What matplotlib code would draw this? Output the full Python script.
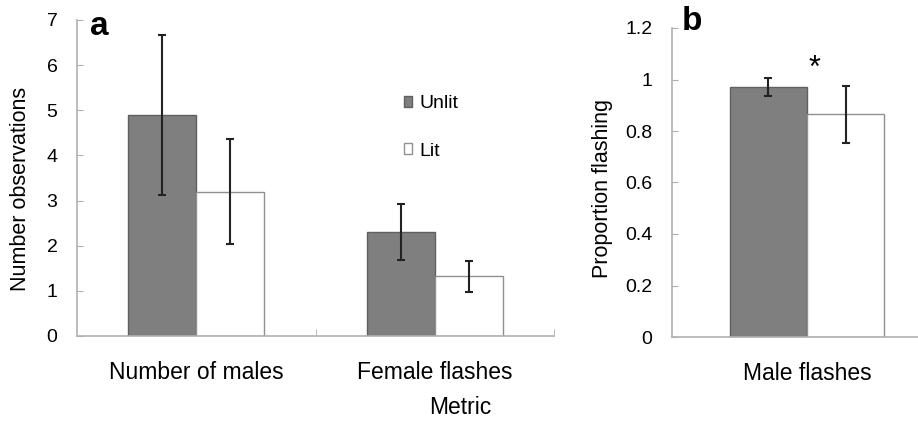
import numpy as np
import matplotlib.pyplot as plt

plt.rcParams['font.family'] = ['Liberation Sans', 'DejaVu Sans']

# panel a data
metrics = ['Number of males', 'Female flashes']
unlit_a = [4.9, 2.3]
unlit_a_err = [1.77, 0.62]
lit_a = [3.2, 1.32]
lit_a_err = [1.17, 0.34]

# panel b data
metric_b = ['Male flashes']
unlit_b = [0.97]
unlit_b_err = [0.035]
lit_b = [0.865]
lit_b_err = [0.11]

W, H = 918, 421
fig = plt.figure(figsize=(W / 100, H / 100), dpi=100)

dark = '#7f7f7f'
spine_c = '#b0b0b0'
bw = 0.286

def style(ax):
    for s in ['top', 'right']:
        ax.spines[s].set_visible(False)
    for s in ['left', 'bottom']:
        ax.spines[s].set_color(spine_c)
        ax.spines[s].set_linewidth(1.2)
    ax.tick_params(axis='y', direction='in', length=4, color=spine_c,
                   labelsize=14, pad=14)
    ax.tick_params(axis='x', which='major', length=0, labelsize=16.5, pad=18)
    ax.tick_params(axis='x', which='minor', direction='in', length=5, color=spine_c)

def bars(ax, x, u, ue, l, le):
    ax.bar(x - bw / 2, u, bw, color=dark, edgecolor='#606060', linewidth=1, label='Unlit')
    ax.bar(x + bw / 2, l, bw, color='white', edgecolor='#909090', linewidth=1, label='Lit')
    ax.errorbar(x - bw / 2, u, yerr=ue, fmt='none', ecolor='#222222',
                elinewidth=1.5, capsize=3, capthick=1.5)
    ax.errorbar(x + bw / 2, l, yerr=le, fmt='none', ecolor='#222222',
                elinewidth=1.5, capsize=3, capthick=1.5)

# panel a
axa = fig.add_axes([77 / W, 1 - 336 / H, (554 - 77) / W, (336 - 20) / H])
xa = np.arange(len(metrics))
bars(axa, xa, unlit_a, unlit_a_err, lit_a, lit_a_err)
axa.set_xlim(-0.5, len(metrics) - 0.5)
axa.set_ylim(0, 7)
axa.set_xticks(xa)
axa.set_xticklabels(metrics)
axa.set_xticks([0.5, 1.5], minor=True)
style(axa)
axa.set_ylabel('Number observations', fontsize=15.5)
axa.yaxis.set_label_coords(-0.096, 0.465)
axa.set_xlabel('Metric', fontsize=16.5)
axa.xaxis.set_label_coords(0.803, -0.19)
axa.text(90 / W, 1 - 35 / H, 'a', transform=fig.transFigure,
         fontsize=24, fontweight='bold')
axa.legend(loc='upper left', bbox_to_anchor=(386 / W, 1 - 78 / H),
           bbox_transform=fig.transFigure, frameon=False, fontsize=14,
           handlelength=0.45, handleheight=0.45, handletextpad=0.35,
           labelspacing=1.55)

# panel b
axb = fig.add_axes([672 / W, 1 - 337 / H, 270 / W, (337 - 28) / H])
xb = np.arange(len(metric_b))
bars(axb, xb, unlit_b, unlit_b_err, lit_b, lit_b_err)
axb.set_xlim(-0.5, 0.5)
axb.set_ylim(0, 1.2)
axb.set_yticks(np.arange(0, 1.21, 0.2))
axb.set_yticklabels(['0', '0.2', '0.4', '0.6', '0.8', '1', '1.2'])
axb.set_xticks(xb)
axb.set_xticklabels(metric_b)
style(axb)
axb.set_ylabel('Proportion flashing', fontsize=15.5)
axb.yaxis.set_label_coords(-0.218, 0.482)
axb.text(0.026, 1.04, '*', fontsize=22, ha='center', va='center')
axb.text(682 / W, 1 - 30 / H, 'b', transform=fig.transFigure,
         fontsize=24, fontweight='bold')

fig.savefig('out.png', dpi=100)
